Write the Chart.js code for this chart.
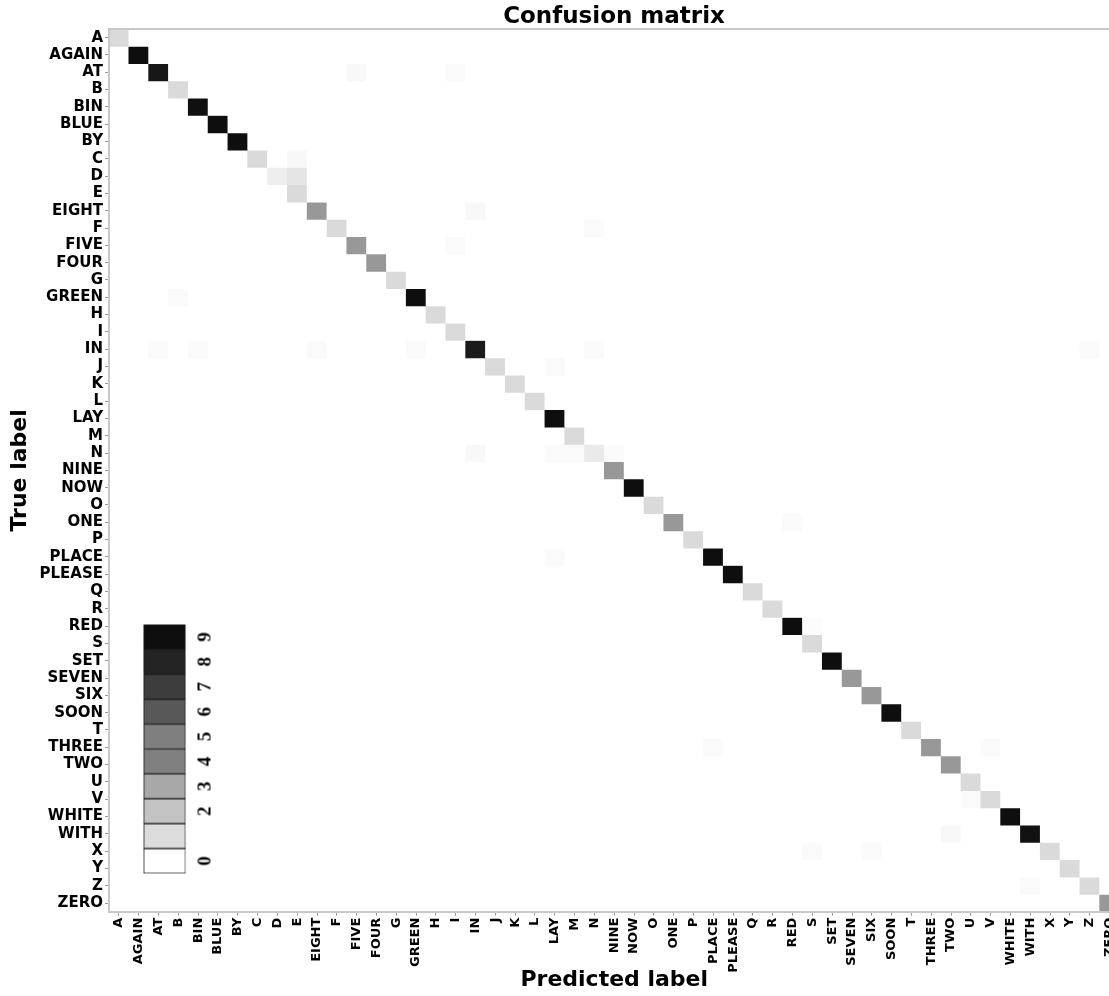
<!DOCTYPE html>
<html>
<head>
<meta charset="utf-8">
<script src="https://cdn.jsdelivr.net/npm/chart.js@4.4.1/dist/chart.umd.min.js"></script>
<style>
  html, body { margin: 0; padding: 0; background: #ffffff; overflow: hidden; width: 1109px; height: 996px; }
  #wrap { position: relative; width: 1109px; height: 996px; overflow: hidden; background: #ffffff; }
  #main { position: absolute; left: 0; top: 0; }
  #cbarBox { position: absolute; left: 143px; top: 618px; width: 81px; height: 260px; }
  #cbarInner { position: absolute; left: -89.5px; top: 89.5px; width: 260px; height: 81px; transform: rotate(-90deg); }
</style>
</head>
<body>
<div id="wrap">
  <canvas id="main" width="1228" height="996"></canvas>
  <div id="cbarBox"><div id="cbarInner"><canvas id="cbar" width="260" height="81"></canvas></div></div>
</div>
<script>
// ---- data ----
const classLabels = ['A', 'AGAIN', 'AT', 'B', 'BIN', 'BLUE', 'BY', 'C', 'D', 'E', 'EIGHT', 'F', 'FIVE', 'FOUR', 'G', 'GREEN', 'H', 'I', 'IN', 'J', 'K', 'L', 'LAY', 'M', 'N', 'NINE', 'NOW', 'O', 'ONE', 'P', 'PLACE', 'PLEASE', 'Q', 'R', 'RED', 'S', 'SET', 'SEVEN', 'SIX', 'SOON', 'T', 'THREE', 'TWO', 'U', 'V', 'WHITE', 'WITH', 'X', 'Y', 'Z', 'ZERO'];

// diagonal (correct prediction) intensity per class, on the colour-bar scale
const diagValues = [1.1, 9, 8.6, 1.1, 8.9, 9, 9, 1.1, 0.5, 1.1,
                    3.4, 1.1, 3.4, 3.4, 1.1, 9, 1.1, 1.1, 8.4, 1.1,
                    1.1, 1.1, 9, 1.1, 0.6, 3.4, 9, 1.1, 3.4, 1.1,
                    9, 9, 1.1, 1.1, 9, 1.1, 9, 3.4, 3.4, 9,
                    1.1, 3.4, 3.4, 1.1, 1.1, 9, 8.8, 1.1, 1.1, 1.1,
                    3.4];

// off-diagonal confusions: true row index, predicted column index, intensity
const offRows   = [2, 2, 7, 8, 10, 11, 12, 15, 18, 18, 18, 18, 18, 18, 19, 24, 24, 24, 24, 28, 30, 34, 41, 41, 44, 46, 47, 47, 49];
const offCols   = [12, 17, 9, 9, 18, 24, 17, 3, 2, 4, 10, 15, 24, 49, 22, 18, 22, 23, 25, 34, 22, 35, 30, 44, 43, 42, 35, 38, 46];
const offValues = [0.2, 0.15, 0.2, 0.75, 0.2, 0.15, 0.15, 0.15, 0.15, 0.15, 0.15, 0.15, 0.15, 0.15, 0.15, 0.2, 0.15, 0.15, 0.15, 0.15, 0.15, 0.1, 0.15, 0.15, 0.15, 0.2, 0.15, 0.15, 0.15];

// colour bar
const colorbarLevels = [0, 1, 2, 3, 4, 5, 6, 7, 8, 9];
const colorbarTickLabels = ['0', '', '2', '3', '4', '5', '6', '7', '8', '9'];

// ---- styling ----
const greyStops = [255, 220, 195, 168, 128, 127, 88, 61, 36, 14];
function greyFor(v) {
  if (v <= 0) return '#ffffff';
  const lo = Math.min(Math.floor(v), greyStops.length - 1);
  const hi = Math.min(lo + 1, greyStops.length - 1);
  const t = v - lo;
  const g = Math.round(greyStops[lo] * (1 - t) + greyStops[hi] * t);
  return 'rgb(' + g + ',' + g + ',' + g + ')';
}
const boldFont = (size) => ({ family: "'DejaVu Sans', Verdana, sans-serif", weight: 'bold', size: size });

// ---- build matrix ----
const n = classLabels.length;
const matrix = classLabels.map((_, r) => classLabels.map((_, c) => (r === c ? diagValues[r] : 0)));
offRows.forEach((r, i) => { matrix[r][offCols[i]] = offValues[i]; });

const datasets = classLabels.map((name, r) => ({
  label: name,
  data: classLabels.map(() => [r, r + 1]),
  backgroundColor: matrix[r].map(greyFor),
  borderWidth: 0,
  grouped: false,
  barPercentage: 1,
  categoryPercentage: 1,
  xAxisID: 'x',
  yAxisID: 'y'
}));

new Chart(document.getElementById('main'), {
  type: 'bar',
  data: { labels: classLabels, datasets: datasets },
  options: {
    responsive: false,
    animation: false,
    devicePixelRatio: 1,
    layout: { padding: 0 },
    plugins: {
      legend: { display: false },
      tooltip: { enabled: false },
      title: {
        display: true,
        text: 'Confusion matrix',
        color: '#000000',
        font: Object.assign(boldFont(23), { lineHeight: 1.0 }),
        padding: { top: 6, bottom: 0 }
      }
    },
    scales: {
      x: {
        type: 'category',
        offset: true,
        grid: { offset: false, drawOnChartArea: false, drawTicks: true, tickLength: 4, color: '#9a9a9a' },
        border: { display: true, color: '#c8c8c8', width: 2, z: 1 },
        ticks: { autoSkip: false, minRotation: 90, maxRotation: 90, padding: 2, color: '#000000', font: boldFont(13) },
        title: { display: true, text: 'Predicted label', color: '#000000', font: boldFont(22), padding: { top: 0, bottom: 3 } },
        afterFit: (s) => { s.height = 84.3; }
      },
      y: {
        type: 'linear',
        reverse: true,
        min: 0,
        max: n,
        afterBuildTicks: (s) => { s.ticks = classLabels.map((_, i) => ({ value: i + 0.5 })); },
        ticks: { autoSkip: false, callback: (v, i) => classLabels[i], padding: 2, color: '#000000', font: boldFont(15) },
        grid: { drawOnChartArea: false, drawTicks: true, tickLength: 4, color: '#9a9a9a' },
        border: { display: true, color: '#c8c8c8', width: 2, z: 1 },
        title: { display: true, text: 'True label', color: '#000000', font: boldFont(22), padding: { top: 7, bottom: 0 } },
        afterFit: (s) => { s.width = 109; }
      },
      xTop: {
        type: 'category',
        position: 'top',
        display: true,
        grid: { display: false, drawTicks: false },
        ticks: { display: false },
        border: { display: true, color: '#c8c8c8', width: 2, z: 1 },
        afterFit: (s) => { s.height = 0; }
      },
      yRight: {
        type: 'linear',
        position: 'right',
        display: true,
        min: 0,
        max: n,
        grid: { display: false, drawTicks: false },
        ticks: { display: false },
        border: { display: false },
        afterFit: (s) => { s.width = 108.5; }
      }
    }
  }
});

// ---- colour bar (drawn horizontally, rotated by CSS) ----
new Chart(document.getElementById('cbar'), {
  type: 'bar',
  data: {
    labels: ['scale'],
    datasets: colorbarLevels.map((lv) => ({
      label: String(lv),
      data: [1],
      backgroundColor: greyFor(lv),
      borderColor: '#1a1a1a',
      borderWidth: 1,
      borderSkipped: false,
      barPercentage: 1,
      categoryPercentage: 1
    }))
  },
  options: {
    indexAxis: 'y',
    responsive: false,
    animation: false,
    devicePixelRatio: 1,
    layout: { padding: { left: 5, right: 6, top: 0, bottom: 0 } },
    plugins: { legend: { display: false }, tooltip: { enabled: false } },
    scales: {
      x: {
        type: 'linear',
        stacked: true,
        min: 0,
        max: colorbarLevels.length,
        afterBuildTicks: (s) => { s.ticks = colorbarLevels.map((lv) => ({ value: lv + 0.5 })); },
        ticks: { autoSkip: false, callback: (v, i) => colorbarTickLabels[i], padding: 8, color: '#000000', font: { family: "'Liberation Serif', 'Times New Roman', serif", size: 19, weight: 'bold' } },
        grid: { display: false, drawTicks: false },
        border: { display: false }
      },
      y: { type: 'category', stacked: true, display: false }
    }
  }
});
</script>
</body>
</html>
